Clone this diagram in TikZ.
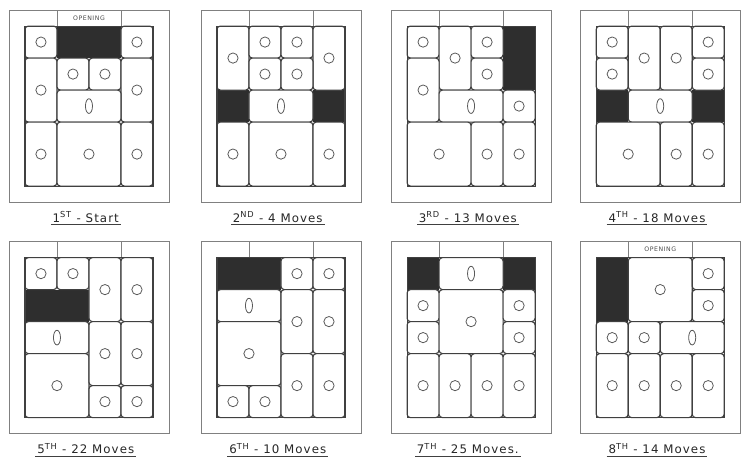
\documentclass[tikz,border=0pt]{standalone}
\usepackage{fontspec}
\newfontfamily\lblfont[LetterSpace=9]{DejaVu Sans}
% one piece: column, row, width, height (rows counted downwards)
\newcommand{\blk}[4]{%
  \draw[piece](#1,-#2)rectangle++(#3,-#4);
  \draw[peg]($(#1,-#2)+(#3/2,-#4/2)$)circle(0.16);}
\newcommand{\longblk}[2]{%
  \draw[piece](#1,-#2)rectangle++(2,-1);
  \draw[peg]($(#1,-#2)+(1,-0.5)$)ellipse(0.11 and 0.23);}
\newcommand{\hole}[4]{\fill[gapfill](#1,-#2)rectangle++(#3,-#4);}
% tray round the board, with its caption
\newcommand{\tray}[2]{%
  \draw[rim](-0.5,0.5)rectangle(4.5,-5.5);
  \draw[rim](1,0)--(1,0.5);
  \draw[rim](3,0)--(3,0.5);
  \draw[board](0,0)rectangle(4,-5);
  \node[caption](#1)at(1.9,-5.97){#2};
  \draw[line width=0.9pt,black!75]([yshift=-0.5pt]#1.south west)--([yshift=-0.5pt]#1.south east);}
\usetikzlibrary{calc}
\begin{document}
\begin{tikzpicture}[x=1cm,y=1cm,
  piece/.style={draw=black!75,line width=1pt,rounded corners=3pt,fill=white},
  board/.style={draw=black!75,line width=1pt},
  gapfill/.style={fill=black!82},
  peg/.style={draw=black!65,line width=0.7pt},
  rim/.style={draw=black!50,line width=0.8pt},
  caption/.style={font=\lblfont\fontsize{10.5}{12}\selectfont,text=black!85,inner sep=1.5pt},
  opening/.style={font=\lblfont\fontsize{5.5}{6}\selectfont,text=black!70,inner sep=0pt}]
\useasboundingbox(0,0)rectangle(23.28,14.44);

% 1st - start
\begin{scope}[shift={(0.78,13.625)}]
\hole{1}{0}{2}{1}
\blk{0}{0}{1}{1}\blk{3}{0}{1}{1}
\blk{0}{1}{1}{2}\blk{1}{1}{1}{1}\blk{2}{1}{1}{1}\blk{3}{1}{1}{2}
\longblk{1}{2}
\blk{0}{3}{1}{2}\blk{1}{3}{2}{2}\blk{3}{3}{1}{2}
\tray{cap1}{1\textsuperscript{ST} - Start}
\node[opening](open1)at(2,0.25){OPENING};
\end{scope}

% 2nd
\begin{scope}[shift={(6.78,13.625)}]
\hole{0}{2}{1}{1}\hole{3}{2}{1}{1}
\blk{0}{0}{1}{2}\blk{1}{0}{1}{1}\blk{2}{0}{1}{1}\blk{3}{0}{1}{2}
\blk{1}{1}{1}{1}\blk{2}{1}{1}{1}
\longblk{1}{2}
\blk{0}{3}{1}{2}\blk{1}{3}{2}{2}\blk{3}{3}{1}{2}
\tray{cap2}{2\textsuperscript{ND} - 4 Moves}
\end{scope}

% 3rd
\begin{scope}[shift={(12.72,13.625)}]
\hole{3}{0}{1}{2}
\blk{0}{0}{1}{1}\blk{1}{0}{1}{2}\blk{2}{0}{1}{1}\blk{2}{1}{1}{1}
\blk{0}{1}{1}{2}\longblk{1}{2}\blk{3}{2}{1}{1}
\blk{0}{3}{2}{2}\blk{2}{3}{1}{2}\blk{3}{3}{1}{2}
\tray{cap3}{3\textsuperscript{RD} - 13 Moves}
\end{scope}

% 4th
\begin{scope}[shift={(18.63,13.625)}]
\hole{0}{2}{1}{1}\hole{3}{2}{1}{1}
\blk{0}{0}{1}{1}\blk{0}{1}{1}{1}\blk{1}{0}{1}{2}\blk{2}{0}{1}{2}
\blk{3}{0}{1}{1}\blk{3}{1}{1}{1}
\longblk{1}{2}
\blk{0}{3}{2}{2}\blk{2}{3}{1}{2}\blk{3}{3}{1}{2}
\tray{cap4}{4\textsuperscript{TH} - 18 Moves}
\end{scope}

% 5th
\begin{scope}[shift={(0.78,6.39)}]
\hole{0}{1}{2}{1}
\blk{0}{0}{1}{1}\blk{1}{0}{1}{1}\blk{2}{0}{1}{2}\blk{3}{0}{1}{2}
\longblk{0}{2}
\blk{0}{3}{2}{2}\blk{2}{2}{1}{2}\blk{3}{2}{1}{2}
\blk{2}{4}{1}{1}\blk{3}{4}{1}{1}
\tray{cap5}{5\textsuperscript{TH} - 22 Moves}
\end{scope}

% 6th
\begin{scope}[shift={(6.78,6.39)}]
\hole{0}{0}{2}{1}
\blk{2}{0}{1}{1}\blk{3}{0}{1}{1}
\longblk{0}{1}
\blk{0}{2}{2}{2}\blk{0}{4}{1}{1}\blk{1}{4}{1}{1}
\blk{2}{1}{1}{2}\blk{3}{1}{1}{2}\blk{2}{3}{1}{2}\blk{3}{3}{1}{2}
\tray{cap6}{6\textsuperscript{TH} - 10 Moves}
\end{scope}

% 7th
\begin{scope}[shift={(12.72,6.39)}]
\hole{0}{0}{1}{1}\hole{3}{0}{1}{1}
\longblk{1}{0}
\blk{0}{1}{1}{1}\blk{0}{2}{1}{1}\blk{1}{1}{2}{2}
\blk{3}{1}{1}{1}\blk{3}{2}{1}{1}
\blk{0}{3}{1}{2}\blk{1}{3}{1}{2}\blk{2}{3}{1}{2}\blk{3}{3}{1}{2}
\tray{cap7}{7\textsuperscript{TH} - 25 Moves.}
\end{scope}

% 8th
\begin{scope}[shift={(18.63,6.39)}]
\hole{0}{0}{1}{2}
\blk{1}{0}{2}{2}\blk{3}{0}{1}{1}\blk{3}{1}{1}{1}
\blk{0}{2}{1}{1}\blk{1}{2}{1}{1}\longblk{2}{2}
\blk{0}{3}{1}{2}\blk{1}{3}{1}{2}\blk{2}{3}{1}{2}\blk{3}{3}{1}{2}
\tray{cap8}{8\textsuperscript{TH} - 14 Moves}
\node[opening](open8)at(2,0.25){OPENING};
\end{scope}
\end{tikzpicture}
\end{document}
